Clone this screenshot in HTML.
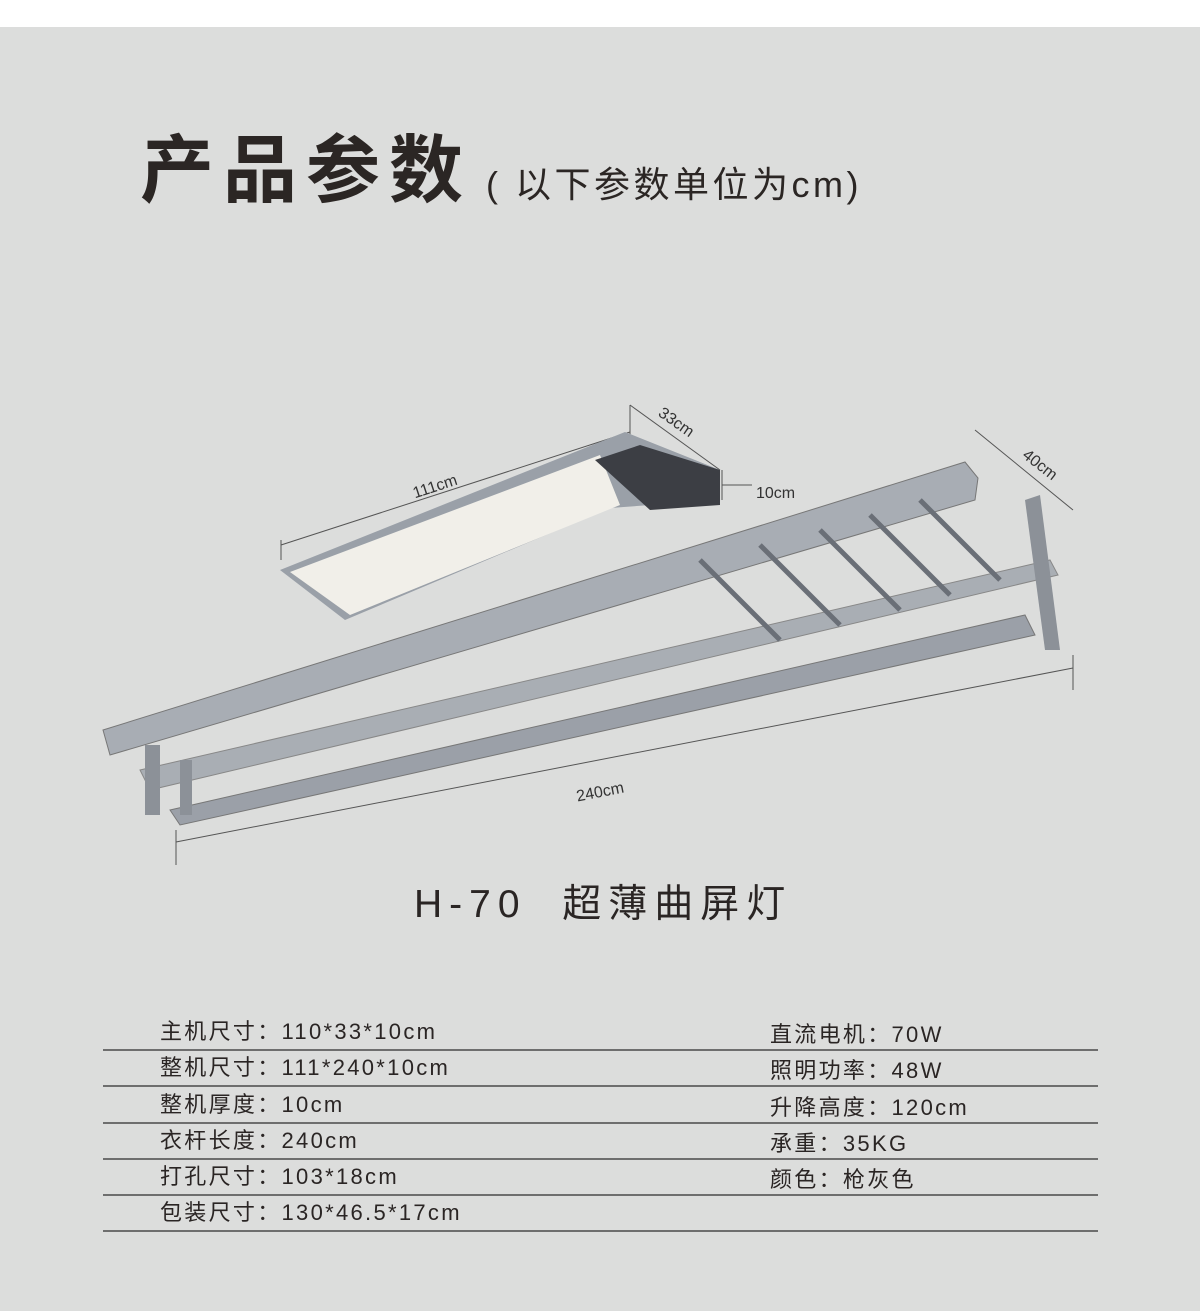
<!DOCTYPE html>
<html><head><meta charset="utf-8"><style>
body{margin:0;width:1200px;height:1311px;background:#dcdddc;position:relative;overflow:hidden;font-family:"Liberation Sans","Noto Sans CJK SC",sans-serif;color:#2a2524}
.top{position:absolute;left:0;top:0;width:1200px;height:27px;background:#fff}
.t1{position:absolute;left:140px;top:126px;font-size:74px;font-weight:bold;letter-spacing:9px;line-height:90px;color:#2b2624}
.t2{position:absolute;left:486px;top:162px;font-size:36px;line-height:46px;color:#2b2624;letter-spacing:3.5px}
.model{position:absolute;left:414px;top:880px;font-size:39px;letter-spacing:7px;line-height:50px}
.row{position:absolute;font-size:22px;letter-spacing:2.3px;line-height:28px}
.ln{position:absolute;left:103px;width:995px;height:2px;background:#6e6e6e}
</style></head><body>
<div class="top"></div>
<div class="t1">产品参数</div>
<div class="t2">( 以下参数单位为cm)</div>
<svg width="1200" height="1311" style="position:absolute;left:0;top:0">
<g stroke="#555" stroke-width="1" fill="none">
<line x1="281" y1="545" x2="630" y2="432"/><line x1="281" y1="540" x2="281" y2="560"/><line x1="630" y1="405" x2="630" y2="440"/>
<line x1="630" y1="405" x2="720" y2="470"/><line x1="722" y1="470" x2="722" y2="500"/><line x1="722" y1="485" x2="752" y2="485"/>
<line x1="975" y1="430" x2="1073" y2="510"/>
<line x1="176" y1="842" x2="1073" y2="668"/><line x1="176" y1="830" x2="176" y2="865"/><line x1="1073" y1="655" x2="1073" y2="690"/>
</g>
<polygon points="280,570 625,432 720,470 720,500 610,508 345,620" fill="#9aa0a8"/>
<polygon points="290,572 600,455 620,505 350,615" fill="#f1efe9"/>
<polygon points="595,460 640,445 720,470 720,505 650,510" fill="#3c3e44"/>
<polygon points="103,730 965,462 978,478 975,500 110,755" fill="#a8adb4" stroke="#777"/>
<polygon points="170,810 1025,615 1035,635 180,825" fill="#9ba0a8" stroke="#777"/>
<polygon points="140,770 1050,560 1058,575 150,790" fill="#a9aeb4" stroke="#888"/>
<polygon points="145,745 160,745 160,815 145,815" fill="#8c9198"/>
<polygon points="180,760 192,760 192,815 180,815" fill="#8c9198"/>
<polygon points="1025,500 1040,495 1060,650 1045,650" fill="#8c9198"/>
<g stroke="#6a6f77" stroke-width="5">
<line x1="700" y1="560" x2="780" y2="640"/><line x1="760" y1="545" x2="840" y2="625"/><line x1="820" y1="530" x2="900" y2="610"/><line x1="870" y1="515" x2="950" y2="595"/><line x1="920" y1="500" x2="1000" y2="580"/>
</g>
<g font-family="Liberation Sans" font-size="16" fill="#333">
<text x="412" y="490" transform="rotate(-18 440 485)">111cm</text>
<text x="652" y="428" transform="rotate(35 675 430)">33cm</text>
<text x="756" y="498">10cm</text>
<text x="1010" y="470" transform="rotate(38 1035 480)">40cm</text>
<text x="575" y="795" transform="rotate(-11 610 785)">240cm</text>
</g>
</svg>
<div class="model">H-70&nbsp;&nbsp;超薄曲屏灯</div>
<div class="row" style="left:160px;top:1018px">主机尺寸：110*33*10cm</div>
<div class="row" style="left:160px;top:1054px">整机尺寸：111*240*10cm</div>
<div class="row" style="left:160px;top:1091px">整机厚度：10cm</div>
<div class="row" style="left:160px;top:1127px">衣杆长度：240cm</div>
<div class="row" style="left:160px;top:1163px">打孔尺寸：103*18cm</div>
<div class="row" style="left:160px;top:1199px">包装尺寸：130*46.5*17cm</div>
<div class="row" style="left:770px;top:1021px">直流电机：70W</div>
<div class="row" style="left:770px;top:1057px">照明功率：48W</div>
<div class="row" style="left:770px;top:1094px">升降高度：120cm</div>
<div class="row" style="left:770px;top:1130px">承重：35KG</div>
<div class="row" style="left:770px;top:1166px">颜色：枪灰色</div>
<div class="ln" style="top:1049px"></div>
<div class="ln" style="top:1085px"></div>
<div class="ln" style="top:1122px"></div>
<div class="ln" style="top:1158px"></div>
<div class="ln" style="top:1194px"></div>
<div class="ln" style="top:1230px"></div>
</body></html>
